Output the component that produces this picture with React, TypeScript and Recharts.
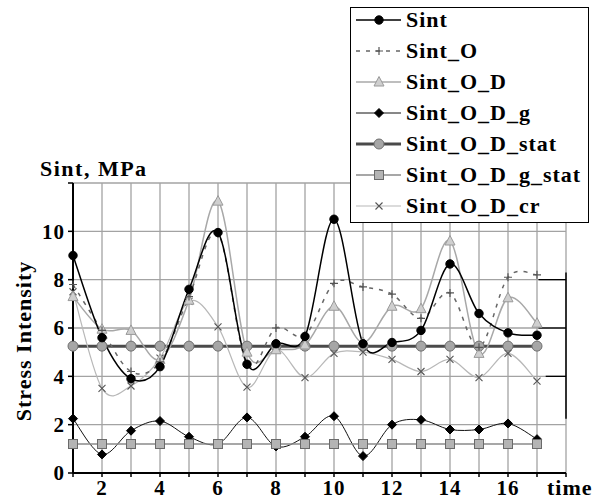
import React from 'react';
import { LineChart, Line, XAxis, YAxis, CartesianGrid, ReferenceLine } from 'recharts';

// time steps 1..17
const times = [1, 2, 3, 4, 5, 6, 7, 8, 9, 10, 11, 12, 13, 14, 15, 16, 17];

const sint = [9.0, 5.6, 3.9, 4.4, 7.6, 9.95, 4.5, 5.35, 5.65, 10.5, 5.35, 5.4, 5.9, 8.65, 6.6, 5.8, 5.7];
const sintO = [7.8, 5.9, 4.2, 4.6, 7.3, 9.9, 4.5, 6.0, 5.7, 7.85, 7.7, 7.4, 6.4, 7.45, 5.2, 8.1, 8.2];
const sintOD = [7.3, 5.95, 5.9, 4.7, 7.15, 11.25, 5.0, 5.1, 5.3, 6.9, 5.4, 6.9, 6.8, 9.6, 4.95, 7.25, 6.2];
const sintODg = [2.25, 0.77, 1.75, 2.15, 1.5, 1.2, 2.3, 1.1, 1.5, 2.35, 0.7, 2.0, 2.2, 1.8, 1.8, 2.05, 1.4];
const sintODstat = [5.25, 5.25, 5.25, 5.25, 5.25, 5.25, 5.25, 5.25, 5.25, 5.25, 5.25, 5.25, 5.25, 5.25, 5.25, 5.25, 5.25];
const sintODgStat = [1.2, 1.2, 1.2, 1.2, 1.2, 1.2, 1.2, 1.2, 1.2, 1.2, 1.2, 1.2, 1.2, 1.2, 1.2, 1.2, 1.2];
const sintODcr = [7.5, 3.5, 3.6, 4.75, 7.1, 6.05, 3.55, 5.1, 3.95, 4.95, 5.0, 4.7, 4.2, 4.7, 3.95, 4.95, 3.8];

const xTicks = [1, 2, 3, 4, 5, 6, 7, 8, 9, 10, 11, 12, 13, 14, 15, 16, 17, 18];
const xLabels = [2, 4, 6, 8, 10, 12, 14, 16];
const yTicks = [0, 2, 4, 6, 8, 10, 12];
const yLabels = [0, 2, 4, 6, 8, 10];

const data = times.map((t, i) => ({
  t,
  sint: sint[i],
  sintO: sintO[i],
  sintOD: sintOD[i],
  sintODg: sintODg[i],
  sintODstat: sintODstat[i],
  sintODgStat: sintODgStat[i],
  sintODcr: sintODcr[i],
}));

// excel-like smoothed line (catmull-rom as bezier)
const smooth = (context: any) => {
  let pts: number[][] = [];
  return {
    areaStart() {},
    areaEnd() {},
    lineStart() { pts = []; },
    point(x: number, y: number) { pts.push([+x, +y]); },
    lineEnd() {
      const n = pts.length;
      if (!n) return;
      context.moveTo(pts[0][0], pts[0][1]);
      for (let i = 0; i < n - 1; i++) {
        const p0 = pts[Math.max(i - 1, 0)];
        const p1 = pts[i];
        const p2 = pts[i + 1];
        const p3 = pts[Math.min(i + 2, n - 1)];
        const k = 1 / 6;
        context.bezierCurveTo(
          p1[0] + (p2[0] - p0[0]) * k, p1[1] + (p2[1] - p0[1]) * k,
          p2[0] - (p3[0] - p1[0]) * k, p2[1] - (p3[1] - p1[1]) * k,
          p2[0], p2[1]
        );
      }
    },
  };
};

type Series = {
  key: string; name: string; color: string; width: number; dash?: string;
  shape: string; fill: string; stroke: string; curve: any;
};

// drawing order: bottom first
const series: Series[] = [
  { key: 'sintODg', name: 'Sint_O_D_g', color: '#111', width: 1, shape: 'diamond', fill: '#000', stroke: '#000', curve: smooth },
  { key: 'sintODgStat', name: 'Sint_O_D_g_stat', color: '#8a8a8a', width: 1.5, shape: 'square', fill: '#b4b4b4', stroke: '#6a6a6a', curve: 'linear' },
  { key: 'sintODstat', name: 'Sint_O_D_stat', color: '#4a4a4a', width: 3, shape: 'bigcircle', fill: '#a6a6a6', stroke: '#707070', curve: 'linear' },
  { key: 'sintODcr', name: 'Sint_O_D_cr', color: '#b8b8b8', width: 1.2, shape: 'cross', fill: 'none', stroke: '#555', curve: smooth },
  { key: 'sintOD', name: 'Sint_O_D', color: '#a8a8a8', width: 1.5, shape: 'triangle', fill: '#cfcfcf', stroke: '#9a9a9a', curve: smooth },
  { key: 'sintO', name: 'Sint_O', color: '#666', width: 1.5, dash: '4 6', shape: 'plus', fill: 'none', stroke: '#555', curve: smooth },
  { key: 'sint', name: 'Sint', color: '#000', width: 1.5, shape: 'circle', fill: '#000', stroke: '#000', curve: smooth },
];

const legendOrder = ['sint', 'sintO', 'sintOD', 'sintODg', 'sintODstat', 'sintODgStat', 'sintODcr'];

function Marker({ shape, cx, cy, fill, stroke }: any) {
  if (cx == null || cy == null) return null;
  switch (shape) {
    case 'circle':
      return <circle cx={cx} cy={cy} r={4.2} fill={fill} stroke={stroke} />;
    case 'bigcircle':
      return <circle cx={cx} cy={cy} r={5} fill={fill} stroke={stroke} strokeWidth={1} />;
    case 'plus':
      return <path d={`M${cx - 4},${cy}H${cx + 4}M${cx},${cy - 4}V${cy + 4}`} stroke={stroke} strokeWidth={1.2} />;
    case 'triangle':
      return <path d={`M${cx},${cy - 5.5}L${cx + 5},${cy + 4}L${cx - 5},${cy + 4}Z`} fill={fill} stroke={stroke} />;
    case 'diamond':
      return <path d={`M${cx},${cy - 4.5}L${cx + 4.5},${cy}L${cx},${cy + 4.5}L${cx - 4.5},${cy}Z`} fill={fill} stroke={stroke} />;
    case 'square':
      return <rect x={cx - 4.5} y={cy - 4.5} width={9} height={9} fill={fill} stroke={stroke} />;
    case 'cross':
      return <path d={`M${cx - 3.5},${cy - 3.5}L${cx + 3.5},${cy + 3.5}M${cx + 3.5},${cy - 3.5}L${cx - 3.5},${cy + 3.5}`} stroke={stroke} strokeWidth={1.1} />;
    default:
      return null;
  }
}

const serif = '"Liberation Serif", "Times New Roman", serif';
const boldText = { fontFamily: serif, fontWeight: 700, color: '#000', whiteSpace: 'nowrap' as const };

export default function App() {
  return (
    <div style={{ position: 'fixed', left: 0, top: 0, width: 594, height: 504, background: '#fff', overflow: 'hidden' }}>
      <LineChart width={594} height={504} data={data} margin={{ top: 183, right: 28, bottom: 1, left: 0 }}>
        <CartesianGrid stroke="#a3a3a3" strokeWidth={1.3} />
        <XAxis
          dataKey="t"
          type="number"
          domain={[1, 18]}
          ticks={xTicks}
          interval={0}
          height={30}
          tickSize={4}
          tickMargin={3}
          axisLine={{ stroke: '#000', strokeWidth: 2 }}
          tickLine={{ stroke: '#000', strokeWidth: 1.5 }}
          tickFormatter={(v: number) => (xLabels.includes(v) ? String(v) : '')}
          tick={{ fill: '#000', fontSize: 21, fontWeight: 700, fontFamily: serif, letterSpacing: 1 }}
        />
        <YAxis
          type="number"
          domain={[0, 12]}
          ticks={yTicks}
          interval={0}
          width={73}
          tickSize={5}
          tickMargin={3}
          axisLine={{ stroke: '#000', strokeWidth: 2 }}
          tickLine={{ stroke: '#000', strokeWidth: 1.5 }}
          tickFormatter={(v: number) => (yLabels.includes(v) ? String(v) : '')}
          tick={{ fill: '#000', fontSize: 21, fontWeight: 700, fontFamily: serif, letterSpacing: 1 }}
        />
        <ReferenceLine segment={[{ x: 18, y: 2.25 }, { x: 18, y: 8.3 }]} stroke="#000" strokeWidth={1.5} />
        <ReferenceLine segment={[{ x: 17.05, y: 8 }, { x: 18, y: 8 }]} stroke="#000" strokeWidth={1.3} />
        <ReferenceLine segment={[{ x: 17.05, y: 6 }, { x: 18, y: 6 }]} stroke="#000" strokeWidth={1.3} />
        <ReferenceLine segment={[{ x: 17.3, y: 4 }, { x: 18, y: 4 }]} stroke="#000" strokeWidth={1.3} />
        {series.map((s) => (
          <Line
            key={s.key}
            dataKey={s.key}
            name={s.name}
            type={s.curve}
            stroke={s.color}
            strokeWidth={s.width}
            strokeDasharray={s.dash}
            isAnimationActive={false}
            dot={(p: any) => <Marker key={`${s.key}-${p.index}`} shape={s.shape} cx={p.cx} cy={p.cy} fill={s.fill} stroke={s.stroke} />}
            activeDot={false}
          />
        ))}
      </LineChart>

      <div style={{ ...boldText, position: 'absolute', left: 40, top: 158, fontSize: 22, lineHeight: '22px', letterSpacing: 1.5 }}>Sint, MPa</div>
      <div style={{ ...boldText, position: 'absolute', left: 547, top: 477, fontSize: 22, lineHeight: '22px', letterSpacing: 1 }}>time</div>
      <div
        style={{
          ...boldText,
          position: 'absolute',
          left: 23.5,
          top: 341,
          fontSize: 22,
          lineHeight: '22px',
          letterSpacing: 1,
          transform: 'translate(-50%, -50%) rotate(-90deg)',
        }}
      >
        Stress Intensity
      </div>

      <div
        style={{
          position: 'absolute',
          left: 350,
          top: 7,
          width: 239,
          height: 216,
          boxSizing: 'border-box',
          border: '1.5px solid #000',
          background: '#fff',
          zIndex: 2,
        }}
      >
        <div style={{ marginTop: -4 }}>
          {legendOrder.map((k) => {
            const s = series.find((q) => q.key === k)!;
            return (
              <div key={k} style={{ height: 31, display: 'flex', alignItems: 'center' }}>
                <svg width={55} height={20} style={{ flex: 'none' }}>
                  <line x1={5} x2={50} y1={10} y2={10} stroke={s.color} strokeWidth={s.width} strokeDasharray={s.dash} />
                  <Marker shape={s.shape} cx={28} cy={10} fill={s.fill} stroke={s.stroke} />
                </svg>
                <span style={{ ...boldText, fontSize: 22, lineHeight: '22px', letterSpacing: 1 }}>{s.name}</span>
              </div>
            );
          })}
        </div>
      </div>
    </div>
  );
}
